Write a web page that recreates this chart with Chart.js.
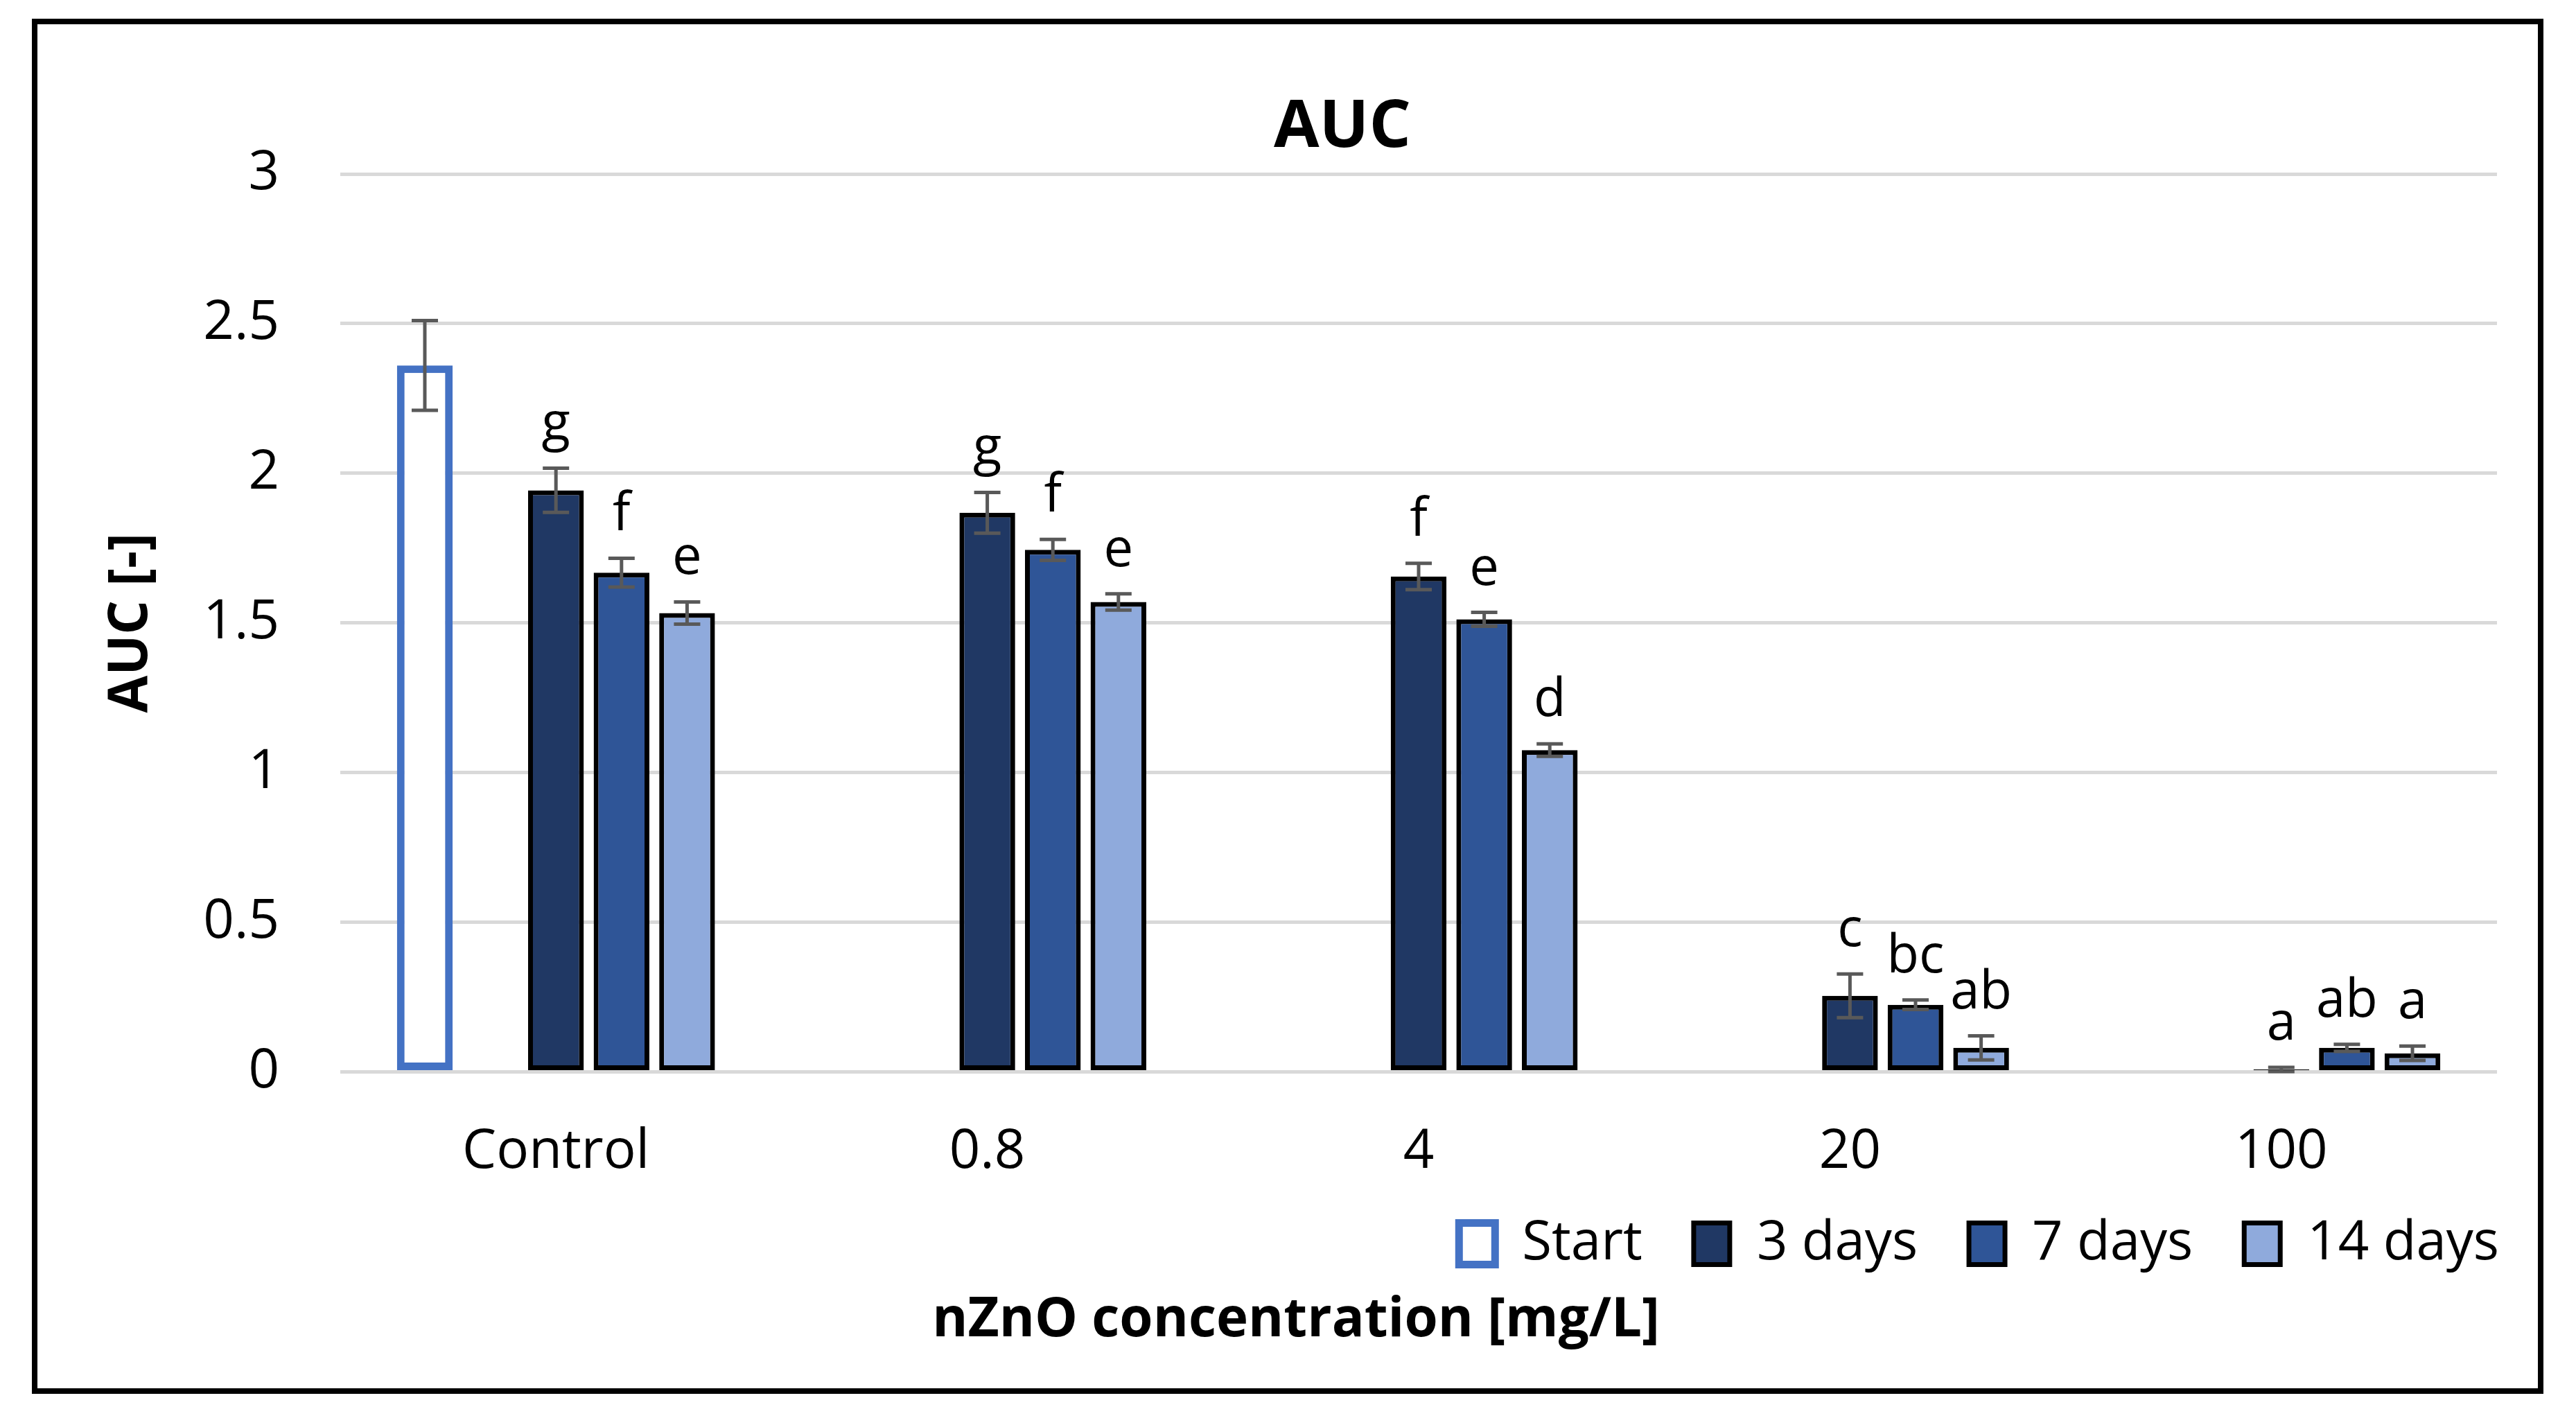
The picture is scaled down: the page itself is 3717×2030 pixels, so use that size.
<!DOCTYPE html>
<html lang="en">
<head>
<meta charset="UTF-8">
<title>AUC</title>
<script src="https://cdn.jsdelivr.net/npm/chart.js@4.4.1/dist/chart.umd.min.js"></script>
<style>
    body { margin: 0; background: #fff; }
    canvas { display: block; }
</style>
</head>
<body>
<canvas id="auc" width="3717" height="2030"></canvas>
<script>
    // values
    const categories = ['Control', '0.8', '4', '20', '100'];
    const seriesNames = ['Start', '3 days', '7 days', '14 days'];

    const startVals = [2.36, null, null, null, null];
    const startErr  = [0.15, null, null, null, null];

    const day3Vals = [1.943, 1.868, 1.655, 0.254, 0.008];
    const day3Err  = [0.074, 0.068, 0.044, 0.073, 0.007];

    const day7Vals = [1.668, 1.744, 1.512, 0.224, 0.080];
    const day7Err  = [0.048, 0.035, 0.023, 0.016, 0.012];

    const day14Vals = [1.533, 1.570, 1.075, 0.080, 0.062];
    const day14Err  = [0.037, 0.027, 0.021, 0.040, 0.024];

    const day3Letters  = ['g', 'g', 'f', 'c', 'a'];
    const day7Letters  = ['f', 'f', 'e', 'bc', 'ab'];
    const day14Letters = ['e', 'e', 'd', 'ab', 'a'];

    const yTicks = [0, 0.5, 1, 1.5, 2, 2.5, 3];

    const FONT = "'Open Sans', 'Noto Sans', sans-serif";
    Chart.defaults.color = '#000';
    Chart.defaults.font.family = FONT;

    const errors = [startErr, null, day3Err, day7Err, day14Err];
    const letters = [null, null, day3Letters, day7Letters, day14Letters];

    // white page, outer frame and the chart title (Excel puts it off-centre)
    const frame = {
        id: 'frame',
        beforeDraw(chart) {
            const ctx = chart.ctx;
            ctx.save();
            ctx.fillStyle = '#fff';
            ctx.fillRect(0, 0, chart.width, chart.height);
            ctx.restore();
        },
        afterDraw(chart) {
            const ctx = chart.ctx;
            ctx.save();
            ctx.strokeStyle = '#000';
            ctx.lineWidth = 8;
            ctx.strokeRect(50, 31, 3616, 1976);
            ctx.fillStyle = '#000';
            ctx.font = 'bold 95px ' + FONT;
            ctx.textAlign = 'center';
            ctx.textBaseline = 'middle';
            ctx.fillText('AUC', 1937, 185);
            ctx.restore();
        }
    };

    const errorBars = {
        id: 'errorBars',
        afterDatasetsDraw(chart) {
            const ctx = chart.ctx;
            const y = chart.scales.y;
            ctx.save();
            chart.data.datasets.forEach((ds, di) => {
                const err = errors[di];
                if (!err) return;
                const meta = chart.getDatasetMeta(di);
                meta.data.forEach((bar, i) => {
                    const v = ds.data[i];
                    if (v === null || err[i] === null) return;
                    const top = y.getPixelForValue(v + err[i]);
                    const bot = y.getPixelForValue(Math.max(v - err[i], 0));
                    const cap = 19;
                    ctx.strokeStyle = '#595959';
                    ctx.lineWidth = 5;
                    ctx.beginPath();
                    ctx.moveTo(bar.x, top); ctx.lineTo(bar.x, bot);
                    ctx.moveTo(bar.x - cap, top); ctx.lineTo(bar.x + cap, top);
                    ctx.moveTo(bar.x - cap, bot); ctx.lineTo(bar.x + cap, bot);
                    ctx.stroke();

                    const lab = letters[di];
                    if (lab) {
                        ctx.fillStyle = '#000';
                        ctx.font = '76px ' + FONT;
                        ctx.textAlign = 'center';
                        ctx.textBaseline = 'alphabetic';
                        ctx.fillText(lab[i], bar.x, top - 40);
                    }
                });
            });
            ctx.restore();
        }
    };

    const barCommon = {
        borderColor: '#000',
        borderWidth: 7,
        borderSkipped: false,
        categoryPercentage: 0.76,
        barPercentage: 0.85
    };

    new Chart(document.getElementById('auc'), {
        type: 'bar',
        data: {
            labels: categories,
            datasets: [
                Object.assign({}, barCommon, { label: seriesNames[0], data: startVals, backgroundColor: '#fff', borderColor: '#4472C4', borderWidth: 11 }),
                Object.assign({}, barCommon, { label: '', data: categories.map(() => null) }),
                Object.assign({}, barCommon, { label: seriesNames[1], data: day3Vals, backgroundColor: '#203864' }),
                Object.assign({}, barCommon, { label: seriesNames[2], data: day7Vals, backgroundColor: '#2F5597' }),
                Object.assign({}, barCommon, { label: seriesNames[3], data: day14Vals, backgroundColor: '#8FAADC' })
            ]
        },
        options: {
            responsive: false,
            animation: false,
            devicePixelRatio: 1,
            layout: { padding: { left: 60, right: 37, top: 251, bottom: 60 } },
            plugins: {
                title: { display: false },
                subtitle: {
                    display: true,
                    position: 'bottom',
                    text: 'nZnO concentration [mg/L]',
                    font: { size: 78, weight: 'bold' },
                    padding: { top: 16, bottom: 17 }
                },
                legend: {
                    position: 'bottom',
                    align: 'end',
                    labels: {
                        font: { size: 78 },
                        boxWidth: 52,
                        boxHeight: 60,
                        padding: 74,
                        filter: item => item.text !== ''
                    }
                },
                tooltip: { enabled: false }
            },
            scales: {
                x: {
                    grid: { display: false, drawTicks: false },
                    border: { display: false },
                    ticks: { font: { size: 78 }, padding: 70 },
                    afterFit: s => {
                        s.height = 135;
                        // the legend sits tight under the labels, so don't clip them to this box
                        s._computeLabelArea = () => undefined;
                    }
                },
                y: {
                    min: 0,
                    max: 3,
                    afterBuildTicks: s => { s.ticks = yTicks.map(v => ({ value: v })); },
                    ticks: { font: { size: 78 }, padding: 88, callback: v => String(v) },
                    grid: { color: '#D9D9D9', lineWidth: 5, drawTicks: false },
                    border: { display: false },
                    title: {
                        display: true,
                        text: 'AUC [-]',
                        font: { size: 78, weight: 'bold' },
                        padding: { top: 83, bottom: 0 }
                    },
                    afterFit: s => { s.width = 431; }
                },
                // empty right-hand axis: only keeps the plot area clear of the frame
                yRight: {
                    position: 'right',
                    grid: { display: false },
                    border: { display: false },
                    ticks: { display: false },
                    afterFit: s => { s.width = 77; }
                }
            }
        },
        plugins: [frame, errorBars]
    });
</script>
</body>
</html>
